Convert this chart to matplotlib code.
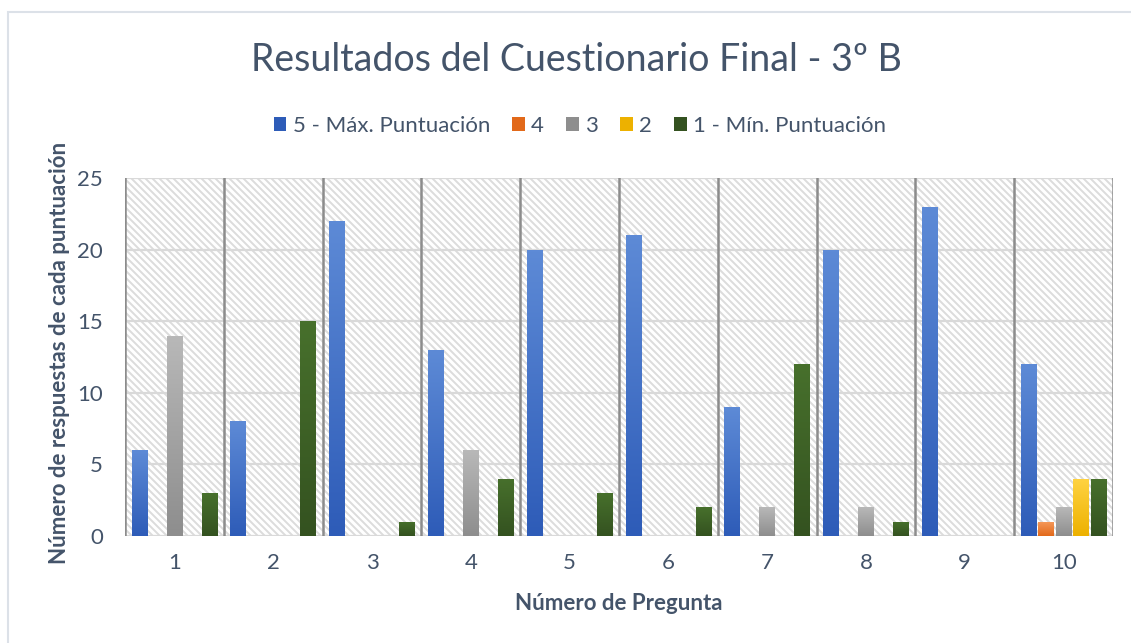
import matplotlib
matplotlib.use("Agg")
import matplotlib.pyplot as plt
import numpy as np
from matplotlib.patches import Rectangle
from matplotlib.colors import LinearSegmentedColormap
from matplotlib.collections import LineCollection

categories = ["1", "2", "3", "4", "5", "6", "7", "8", "9", "10"]
series_names = ["5 - Máx. Puntuación", "4", "3", "2", "1 - Mín. Puntuación"]
v5 = [6, 8, 22, 13, 20, 21, 9, 20, 23, 12]
v4 = [0, 0, 0, 0, 0, 0, 0, 0, 0, 1]
v3 = [14, 0, 0, 6, 0, 0, 2, 2, 0, 2]
v2 = [0, 0, 0, 0, 0, 0, 0, 0, 0, 4]
v1 = [3, 15, 1, 4, 3, 2, 12, 1, 0, 4]
series_values = [v5, v4, v3, v2, v1]
yticks = [0, 5, 10, 15, 20, 25]

# gradient (top, bottom) colours per series
grad = [("#5D8AD6", "#2E5CB8"),
        ("#F59A5C", "#E2691A"),
        ("#B8B8B8", "#8E8E8E"),
        ("#FFD342", "#EDB100"),
        ("#47702C", "#345220")]

TXT = "#44546A"
plt.rcParams['font.family'] = ['Lato', 'DejaVu Sans']

fig = plt.figure(figsize=(11.31, 6.43), dpi=100)
W, H = 1131, 643
# outer frame
fig.patches.append(Rectangle((8 / W, -0.1), 1.2, (643 - 12) / H + 0.1, transform=fig.transFigure,
                             fill=False, edgecolor="#DCE1E8", linewidth=1.5))

L, R, T, B = 125, 1113, 178, 536
aw, ah = R - L, B - T
ax = fig.add_axes([L / W, 1 - B / H, aw / W, ah / H])
ax.set_xlim(0, len(categories))
ax.set_ylim(0, 25)
for s in ax.spines.values():
    s.set_visible(False)

# diagonal striped background (decorative pattern)
step = 7.0
segs = []
xs = np.arange(-ah, aw + step, step)
for x0 in xs:
    segs.append([(x0 / aw, 1.0), ((x0 + ah) / aw, 0.0)])
lc = LineCollection(segs, colors="#DCDCDC", linewidths=1.4, transform=ax.transAxes,
                    zorder=0, clip_on=True)
ax.add_collection(lc)
lc.set_clip_path(ax.patch)

# horizontal gridlines
for y in yticks:
    ax.axhline(y, color="#D9D9D9", linewidth=1.6, zorder=1)
# vertical category separators
for i in range(len(categories) + 1):
    ax.axvline(i, color="#8C8C8C", linewidth=1.8, zorder=1)

slot = 0.177
bw = 0.157
n = len(series_values)
for si, vals in enumerate(series_values):
    cmap = LinearSegmentedColormap.from_list("g%d" % si, [grad[si][1], grad[si][0]])
    for ci, v in enumerate(vals):
        if v <= 0:
            continue
        x0 = ci + 0.5 + (si - (n - 1) / 2) * slot - bw / 2
        rect = Rectangle((x0, 0), bw, v, facecolor="none", edgecolor="none", zorder=3)
        ax.add_patch(rect)
        im = ax.imshow(np.linspace(0, 1, 64).reshape(-1, 1), cmap=cmap, origin="lower",
                       extent=(x0, x0 + bw, 0, v), aspect="auto", zorder=3,
                       interpolation="bilinear")
        im.set_clip_path(rect)

ax.set_xlim(0, len(categories))
ax.set_ylim(0, 25)
ax.set_xticks(np.arange(len(categories)) + 0.5)
ax.set_xticklabels(categories)
ax.set_yticks(yticks)
ax.tick_params(axis="both", length=0, labelsize=16, labelcolor=TXT)
ax.tick_params(axis="x", pad=12)
ax.tick_params(axis="y", pad=16)
ax.set_xlabel("Número de Pregunta", fontsize=16, fontweight="bold", color=TXT)
ax.set_ylabel("Número de respuestas de cada puntuación", fontsize=16, fontweight="bold",
              color=TXT)
ax.xaxis.set_label_coords(0.5, -(603 - B) / ah, transform=ax.transAxes)
ax.yaxis.set_label_coords(-(L - 60) / aw, 0.5 - ((353 - (T + B) / 2) / ah), transform=ax.transAxes)
ax.xaxis.label.set_va("center")
ax.yaxis.label.set_va("center")

fig.text(576 / W, 1 - 60 / H, "Resultados del Cuestionario Final - 3º B", ha="center",
         va="center", fontsize=27, color=TXT)

handles = [Rectangle((0, 0), 1, 1, facecolor=grad[i][1]) for i in range(n)]
fig.legend(handles, series_names, loc="center", bbox_to_anchor=(580 / W, 1 - 126 / H),
           ncol=5, frameon=False, fontsize=16, labelcolor=TXT, handlelength=0.55,
           handleheight=0.55, handletextpad=0.3, columnspacing=1.0)

fig.savefig("out.png", dpi=100, facecolor="white")
